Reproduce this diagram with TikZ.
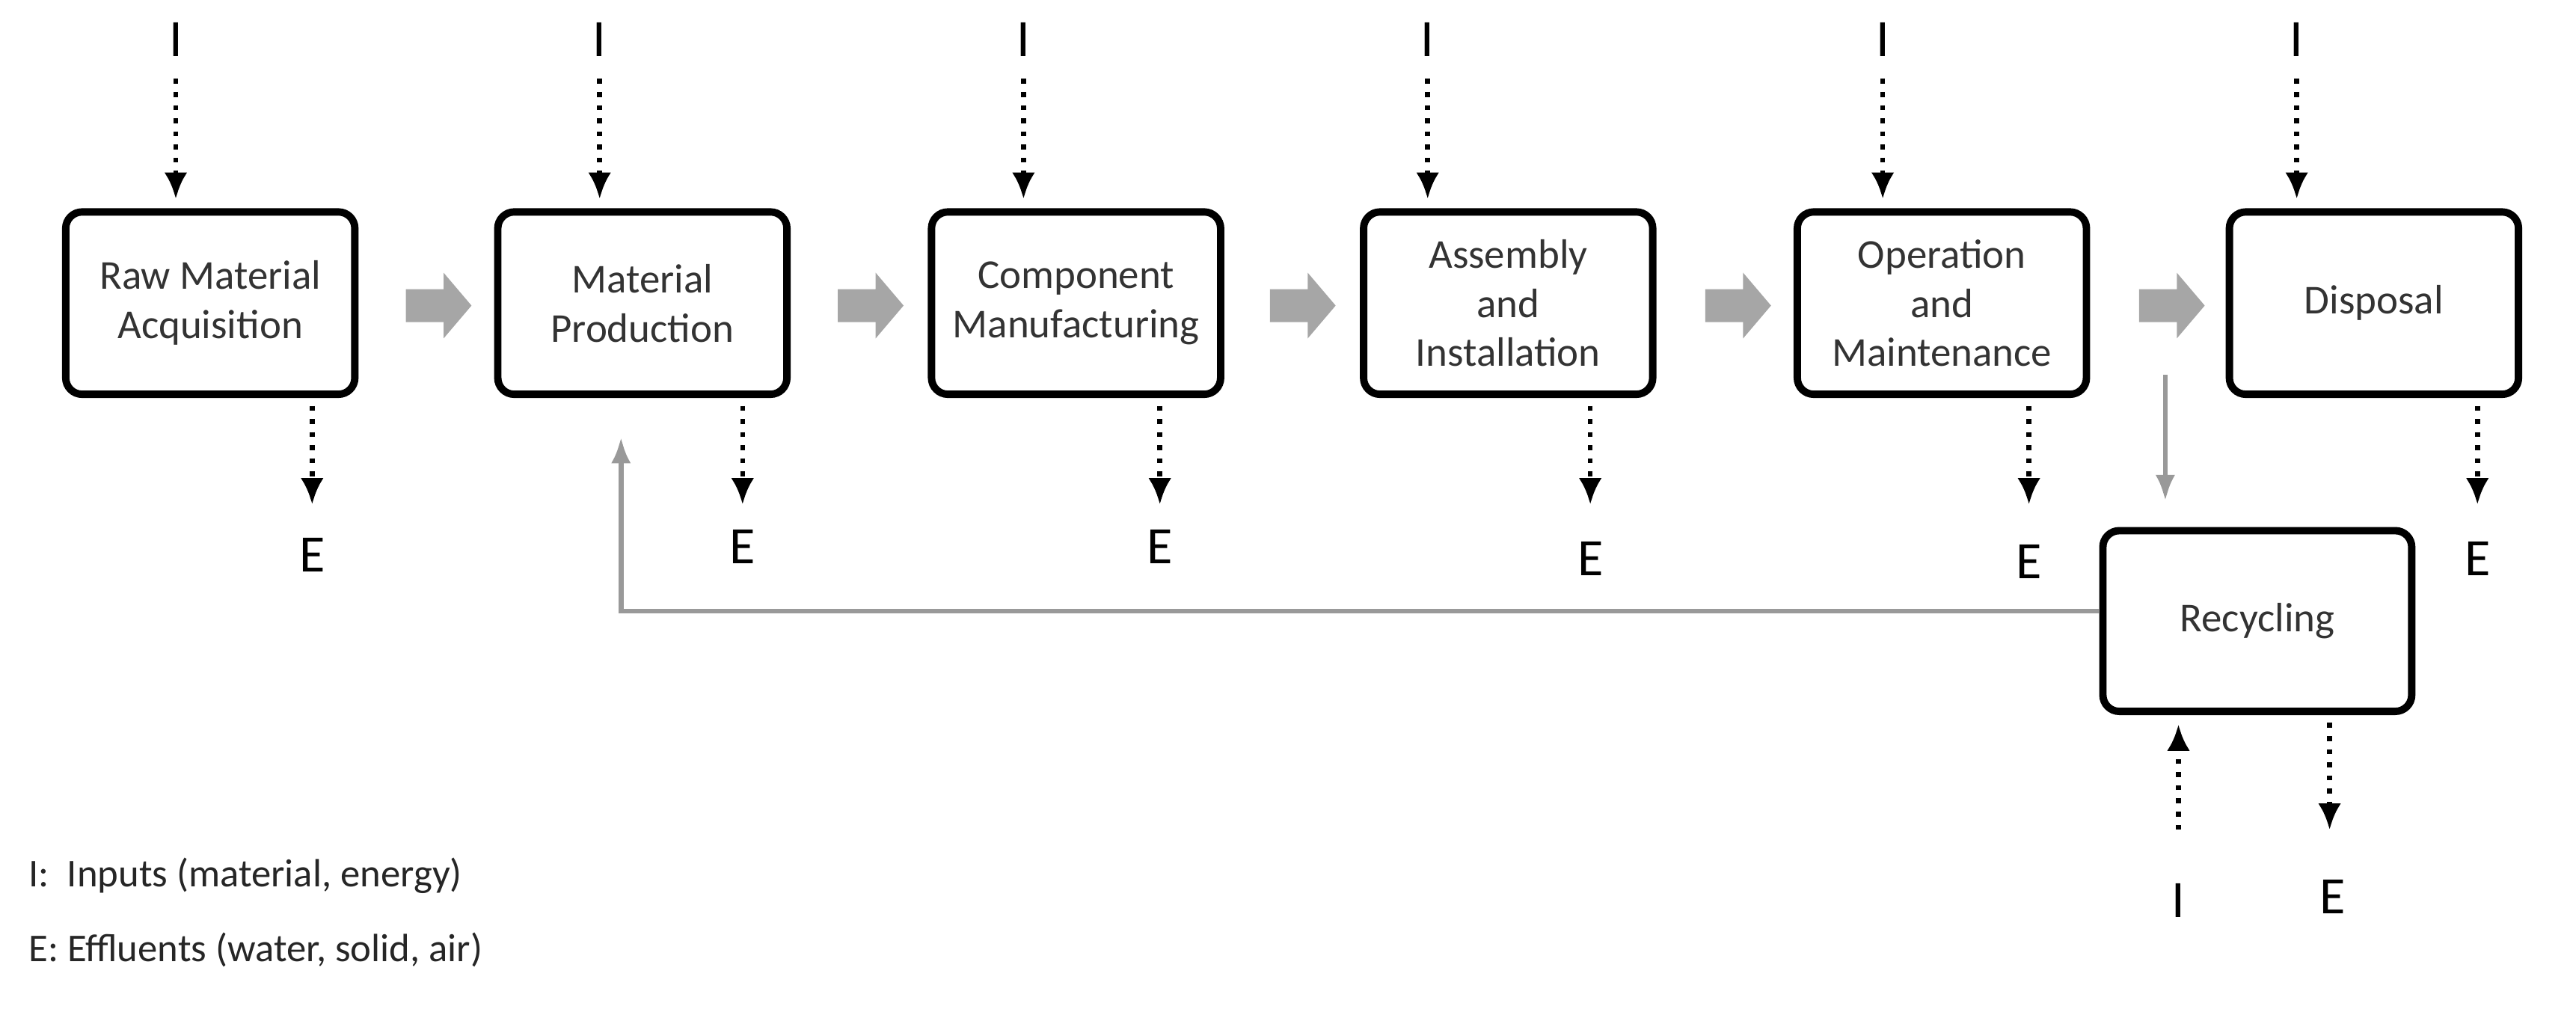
\documentclass[tikz,border=0pt]{standalone}
\usepackage{fontspec}
\setmainfont{Carlito}
\usetikzlibrary{arrows.meta}
\begin{document}
\begin{tikzpicture}[x=1pt,y=-1pt,
 box/.style={draw,line width=4.5pt,rounded corners=10pt,minimum width=176pt,minimum height=111pt,align=center,font=\fontsize{25}{30}\selectfont,text=black!80},
 lab/.style={font=\fontsize{32}{36}\selectfont},
 dots/.style={line width=3pt,dash pattern=on 3pt off 5pt,-{Latex[length=16pt,width=14pt]}},
 garr/.style={fill=black!35,draw=none},
 gline/.style={draw=black!40,line width=3pt,-{Latex[length=16pt,width=12pt]}}]
\useasboundingbox (0,0) rectangle (1568,623);
\node[box] (b1) at (128,184.5) {Raw Material\\Acquisition};
\node[box] (b2) at (391,184.5) {Material\\Production};
\node[box] (b3) at (655,184.5) {Component\\Manufacturing};
\node[box] (b4) at (918,184.5) {Assembly\\and\\Installation};
\node[box] (b5) at (1182,184.5) {Operation\\and\\Maintenance};
\node[box] (b6) at (1445,184.5) {Disposal};
\node[box,minimum width=188pt,minimum height=110pt] (r) at (1374,378) {Recycling};
\foreach \i/\x/\n in {1/107/b1,2/365/b2,3/623/b3,4/869/b4,5/1146/b5,6/1398/b6}{
 \node[lab] (i\i) at (\x,24) {I};
 \coordinate (it\i) at (\x,48);
 \draw[dots] (it\i) -- (\x,121);
}
\foreach \i/\x/\y in {1/190/338,2/452/333,3/706/333,4/968/340,5/1235/342,6/1508/340}{
 \node[lab] (e\i) at (\x,\y) {E};
 \coordinate (es\i) at (\x,247);
 \draw[dots] (es\i) -- (\x,307);
}
\foreach \x in {247,510,773,1038,1302}
 \fill[garr] (\x,176) -- ++(23,0) -- ++(0,-10) -- ++(17,20) -- ++(-17,20) -- ++(0,-10) -- ++(-23,0) -- cycle;
\coordinate (dtop) at (1318,228);
\draw[gline] (dtop) -- (1318,305);
\draw[gline] (r.west) ++(0,-6) -| (378,266);
\node[lab] (ri) at (1326,548) {I};
\node[lab] (re) at (1420,546) {E};
\coordinate (ris) at (1326,505);
\draw[dots] (ris) -- (1326,441);
\coordinate (res) at (1418,440);
\draw[dots] (res) -- (1418,505);
\node[anchor=west,font=\fontsize{24}{28}\selectfont,text=black!85] (l1) at (14,533) {I:\ \ Inputs (material, energy)};
\node[anchor=west,font=\fontsize{24}{28}\selectfont,text=black!85] (l2) at (14,578) {E:\ Effluents (water, solid, air)};
\end{tikzpicture}
\end{document}
